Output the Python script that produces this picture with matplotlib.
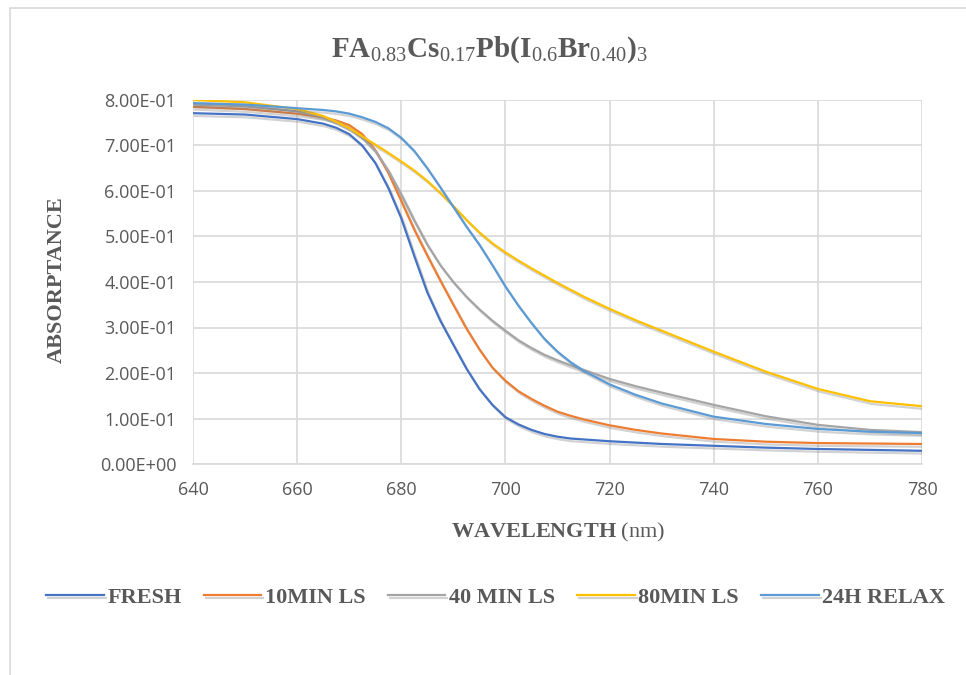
import matplotlib
matplotlib.use('Agg')
import matplotlib.pyplot as plt
import matplotlib.patheffects as pe
from matplotlib.ticker import FuncFormatter, MultipleLocator
from matplotlib.patches import Rectangle

plt.rcParams['mathtext.fontset'] = 'custom'
plt.rcParams['mathtext.rm'] = 'Liberation Serif'
plt.rcParams['mathtext.bf'] = 'Liberation Serif:bold'

wavelength = [640, 650, 660, 665, 667.5, 670, 672.5, 675, 677.5, 680, 682.5, 685,
              687.5, 690, 692.5, 695, 697.5, 700, 702.5, 705, 707.5, 710, 712.5,
              715, 720, 725, 730, 740, 750, 760, 770, 780]

fresh = [0.771, 0.768, 0.758, 0.748, 0.739, 0.725, 0.700, 0.662, 0.607, 0.540,
         0.457, 0.377, 0.315, 0.262, 0.210, 0.165, 0.130, 0.103, 0.087, 0.075,
         0.066, 0.060, 0.056, 0.054, 0.050, 0.047, 0.044, 0.040, 0.036, 0.033,
         0.031, 0.029]
min10 = [0.785, 0.780, 0.770, 0.762, 0.755, 0.745, 0.725, 0.690, 0.640, 0.578,
         0.515, 0.458, 0.403, 0.350, 0.298, 0.252, 0.212, 0.183, 0.160, 0.143,
         0.128, 0.115, 0.106, 0.098, 0.085, 0.075, 0.067, 0.055, 0.049, 0.046,
         0.045, 0.044]
min40 = [0.790, 0.786, 0.775, 0.763, 0.753, 0.738, 0.717, 0.688, 0.645, 0.592,
         0.535, 0.482, 0.437, 0.400, 0.368, 0.340, 0.315, 0.293, 0.272, 0.255,
         0.240, 0.228, 0.217, 0.207, 0.187, 0.171, 0.157, 0.130, 0.105, 0.086,
         0.075, 0.070]
min80 = [0.800, 0.795, 0.780, 0.765, 0.752, 0.738, 0.720, 0.702, 0.684, 0.665,
         0.645, 0.622, 0.596, 0.567, 0.537, 0.509, 0.485, 0.465, 0.447, 0.430,
         0.414, 0.398, 0.383, 0.368, 0.341, 0.316, 0.293, 0.247, 0.203, 0.165,
         0.138, 0.127]
relax24 = [0.793, 0.790, 0.782, 0.778, 0.775, 0.770, 0.762, 0.752, 0.738, 0.717,
           0.688, 0.650, 0.608, 0.565, 0.522, 0.482, 0.437, 0.390, 0.348, 0.310,
           0.275, 0.247, 0.224, 0.205, 0.175, 0.152, 0.133, 0.104, 0.088, 0.077,
           0.071, 0.068]

series = [('FRESH', fresh, '#4472C4'),
          ('10MIN LS', min10, '#ED7D31'),
          ('40 MIN LS', min40, '#A5A5A5'),
          ('80MIN LS', min80, '#FFC000'),
          ('24H RELAX', relax24, '#5B9BD5')]

text_col = '#595959'
grid_col = '#D9D9D9'

fig = plt.figure(figsize=(9.66, 6.75), dpi=100)
# outer chart border
fig.patches.append(Rectangle((10 / 966, -0.1), 1.2, 1.1 - 8 / 675,
                             transform=fig.transFigure, fill=False,
                             edgecolor=grid_col, linewidth=1.2))
ax = fig.add_axes([193 / 966, 1 - 464 / 675, (922 - 193) / 966, (464 - 100) / 675])

shadow = [pe.SimpleLineShadow(offset=(1.5, -2), shadow_color='#808080', alpha=0.35),
          pe.Normal()]
for name, vals, col in series:
    ax.plot(wavelength, vals, color=col, lw=1.6, label=name, path_effects=shadow)

ax.set_xlim(640, 780)
ax.set_ylim(0, 0.8)
ax.xaxis.set_major_locator(MultipleLocator(20))
ax.yaxis.set_major_locator(MultipleLocator(0.1))
ax.yaxis.set_major_formatter(FuncFormatter(lambda v, p: f'{v:.2E}'))
ax.grid(True, color=grid_col, lw=1.2)
ax.set_axisbelow(True)
for s in ['top', 'right', 'left']:
    ax.spines[s].set_visible(False)
ax.spines['bottom'].set_color(grid_col)
ax.spines['bottom'].set_linewidth(1.2)
ax.tick_params(length=0, colors=text_col, labelsize=13, pad=12)
for lab in ax.get_xticklabels() + ax.get_yticklabels():
    lab.set_fontfamily(['Open Sans', 'DejaVu Sans'])

fig.text(0.507, 1 - 50 / 675,
         r'FA$_{0.83}$Cs$_{0.17}$Pb(I$_{0.6}$Br$_{0.40}$)$_3$',
         ha='center', va='center', fontsize=21, fontweight='bold',
         family='Liberation Serif', color=text_col)

fig.text(57 / 966, 1 - 280 / 675, 'ABSORPTANCE', rotation=90, ha='center', va='center',
         fontsize=16, fontweight='bold', family='Liberation Serif', color=text_col)
fig.text(558 / 966, 1 - 532 / 675, r'$\mathbf{WAVELENGTH}$ (nm)', ha='center', va='center',
         fontsize=16, family='Liberation Serif', color=text_col)

leg = fig.legend(loc='center', bbox_to_anchor=(0.513, 1 - 598 / 675), ncol=5,
                 frameon=False, handlelength=2.6, handletextpad=0.15, columnspacing=1.0,
                 prop={'family': 'Liberation Serif', 'weight': 'bold', 'size': 16})
for t in leg.get_texts():
    t.set_color(text_col)

fig.savefig('out.png', dpi=100)
